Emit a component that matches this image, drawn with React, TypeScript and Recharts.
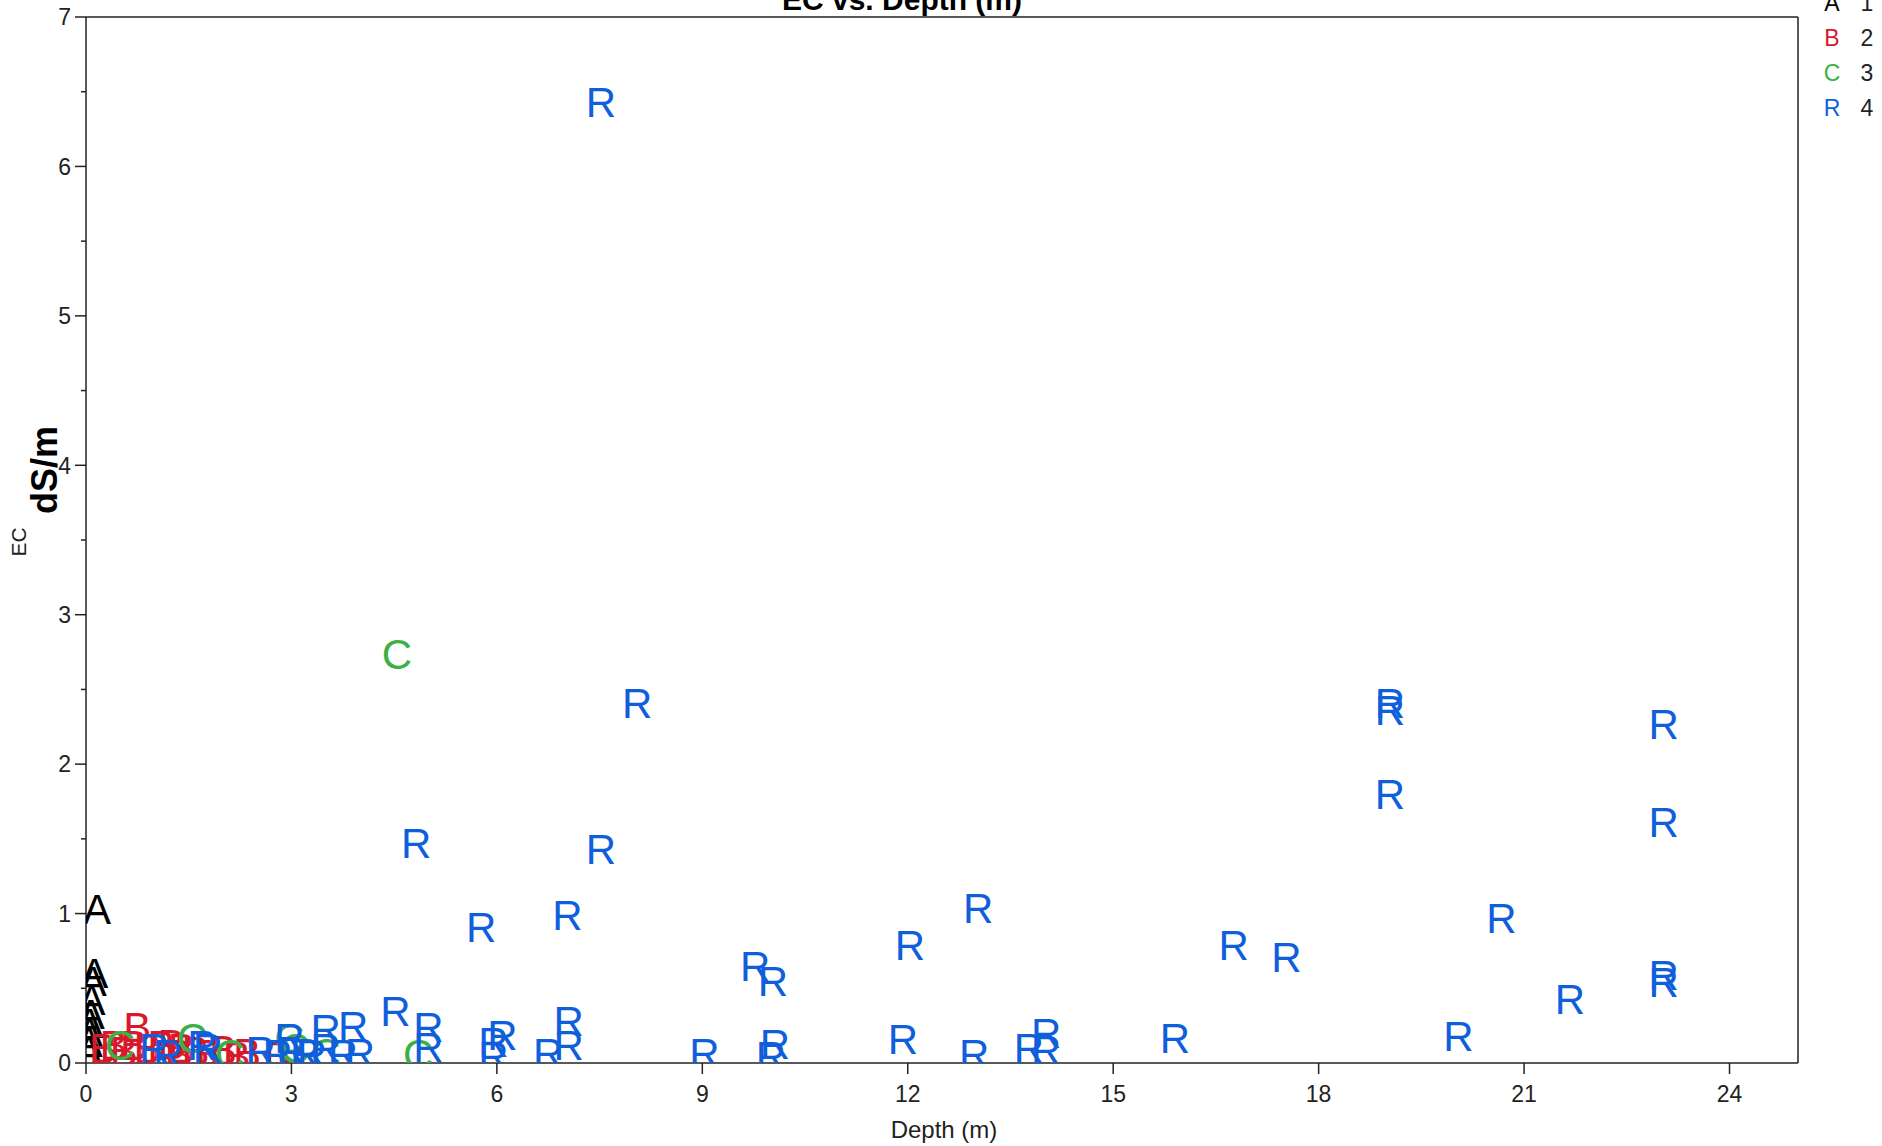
import React from 'react';
import { ScatterChart, Scatter, XAxis, YAxis, ReferenceLine } from 'recharts';

// group 1 (A)
const aDepth = [0.16, 0.12, 0.1, 0.08, 0.07, 0.05, 0.05, 0.04, 0.04];
const aEc = [1.03, 0.6, 0.55, 0.42, 0.33, 0.27, 0.2, 0.14, 0.08];

// group 2 (B)
const bDepth = [0.25, 0.4, 0.55, 0.75, 0.7, 0.9, 1.1, 1.25, 1.4, 1.35, 1.6, 1.8, 2.0, 2.2, 2.35, 2.8];
const bEc = [0.1, 0.12, 0.08, 0.24, 0.12, 0.1, 0.12, 0.13, 0.1, 0.06, 0.08, 0.06, 0.09, 0.05, 0.07, 0.05];

// group 3 (C)
const cDepth = [0.5, 1.55, 2.1, 2.97, 3.05, 3.5, 4.54, 4.85];
const cEc = [0.12, 0.17, 0.06, 0.17, 0.1, 0.07, 2.74, 0.06];

// group 4 (R)
const rDepth = [
  7.52, 8.05, 4.82, 7.52, 5.77, 7.03, 9.77, 10.03, 12.03, 13.03, 16.76, 17.53,
  19.04, 19.04, 19.04, 20.67, 21.67, 20.04, 23.04, 23.04, 23.04, 23.04,
  15.9, 14.02, 14.02, 13.77, 12.97, 11.93, 10.06, 10.0, 9.03, 7.05, 7.05, 6.75,
  6.08, 5.95, 5.95, 5.0, 5.0, 4.52, 3.9, 4.0, 3.5, 3.5, 2.97, 3.0, 3.2, 2.55,
  2.8, 3.3, 3.75, 1.78, 1.7, 1.0, 1.2,
];
const rEc = [
  6.43, 2.41, 1.47, 1.43, 0.91, 0.99, 0.65, 0.55, 0.79, 1.04, 0.79, 0.71,
  2.41, 2.36, 1.8, 0.97, 0.43, 0.18, 2.27, 1.61, 0.59, 0.54,
  0.17, 0.2, 0.09, 0.1, 0.06, 0.16, 0.13, 0.05, 0.07, 0.28, 0.12, 0.07,
  0.19, 0.14, 0.05, 0.24, 0.11, 0.35, 0.25, 0.07, 0.23, 0.1, 0.17, 0.08, 0.07, 0.08,
  0.06, 0.06, 0.06, 0.1, 0.12, 0.1, 0.06,
];

const symbols = ['A', 'B', 'C', 'R'];
const groupNames = ['1', '2', '3', '4'];
const colors = ['#000000', '#d7192d', '#3cb044', '#0f5fdc'];

const xTicks = [0, 3, 6, 9, 12, 15, 18, 21, 24];
const yTicks = [0, 0.5, 1, 1.5, 2, 2.5, 3, 3.5, 4, 4.5, 5, 5.5, 6, 6.5, 7];

const toPoints = (depth: number[], ec: number[]) => depth.map((d, i) => ({ depth: d, ec: ec[i] }));
const series = [
  toPoints(aDepth, aEc),
  toPoints(bDepth, bEc),
  toPoints(cDepth, cEc),
  toPoints(rDepth, rEc),
];

const FONT = '"Liberation Sans", Arial, sans-serif';
const AXIS_X = 86;
const AXIS_COLOR = '#222';

const letterShape = (letter: string, color: string) => (props: any) => (
  <text x={props.cx} y={props.cy + 15} textAnchor="middle" fontSize={42} fontFamily={FONT} fill={color}>
    {letter}
  </text>
);

const YTick = (props: any) => {
  const { y, payload } = props;
  const major = Number.isInteger(payload.value);
  return (
    <g>
      <line x1={AXIS_X - (major ? 11 : 5)} x2={AXIS_X} y1={y} y2={y} stroke={AXIS_COLOR} strokeWidth={1.5} />
      {major && (
        <text x={AXIS_X - 15} y={y} dy="0.36em" textAnchor="end" fontSize={23} fontFamily={FONT} fill="#222">
          {payload.value}
        </text>
      )}
    </g>
  );
};

export default function App() {
  return (
    <div style={{ position: 'absolute', left: 0, top: 0, width: 1882, height: 1146, background: '#fff', overflow: 'hidden' }}>
      <div
        style={{
          position: 'absolute', left: 702, top: -15, width: 400, textAlign: 'center',
          fontFamily: FONT, fontWeight: 'bold', fontSize: 30, lineHeight: 1, color: '#000',
        }}
      >
        EC vs. Depth (m)
      </div>
      <ScatterChart width={1882} height={1146} margin={{ top: 17, right: 84, bottom: 0, left: 0 }}>
        <XAxis
          type="number"
          dataKey="depth"
          domain={[0, 25]}
          ticks={xTicks}
          allowDataOverflow
          height={83}
          tickSize={11}
          tickMargin={12}
          stroke={AXIS_COLOR}
          strokeWidth={1.5}
          tick={{ fontSize: 23, fontFamily: FONT, fill: '#222' }}
          label={{
            content: () => (
              <text x={944} y={1129} dy="0.36em" textAnchor="middle" fontSize={24} fontFamily={FONT} fill="#222">
                Depth (m)
              </text>
            ),
          }}
        />
        <YAxis
          type="number"
          dataKey="ec"
          domain={[0, 7]}
          ticks={yTicks}
          allowDataOverflow
          width={86}
          tickLine={false}
          stroke={AXIS_COLOR}
          strokeWidth={1.5}
          tick={<YTick />}
          label={{
            content: () => (
              <g>
                <text x={18} y={542} transform="rotate(-90 18 542)" dy="0.36em" textAnchor="middle" fontSize={21} fontFamily={FONT} fill="#222">
                  EC
                </text>
                <text x={44} y={470} transform="rotate(-90 44 470)" dy="0.36em" textAnchor="middle" fontSize={36} fontWeight="bold" fontFamily={FONT} fill="#000">
                  dS/m
                </text>
              </g>
            ),
          }}
        />
        <ReferenceLine y={7} stroke={AXIS_COLOR} strokeWidth={1.5} />
        <ReferenceLine x={25} stroke={AXIS_COLOR} strokeWidth={1.5} />
        {series.map((pts, i) => (
          <Scatter
            key={symbols[i]}
            name={groupNames[i]}
            data={pts}
            isAnimationActive={false}
            shape={letterShape(symbols[i], colors[i])}
          />
        ))}
      </ScatterChart>
      <div style={{ position: 'absolute', left: 1815, top: -14, fontFamily: FONT, fontSize: 23 }}>
        {symbols.map((s, i) => (
          <div key={s} style={{ display: 'flex', height: 35, lineHeight: '35px' }}>
            <span style={{ width: 34, textAlign: 'center', color: colors[i] }}>{s}</span>
            <span style={{ width: 36, textAlign: 'center', color: '#222' }}>{groupNames[i]}</span>
          </div>
        ))}
      </div>
    </div>
  );
}
